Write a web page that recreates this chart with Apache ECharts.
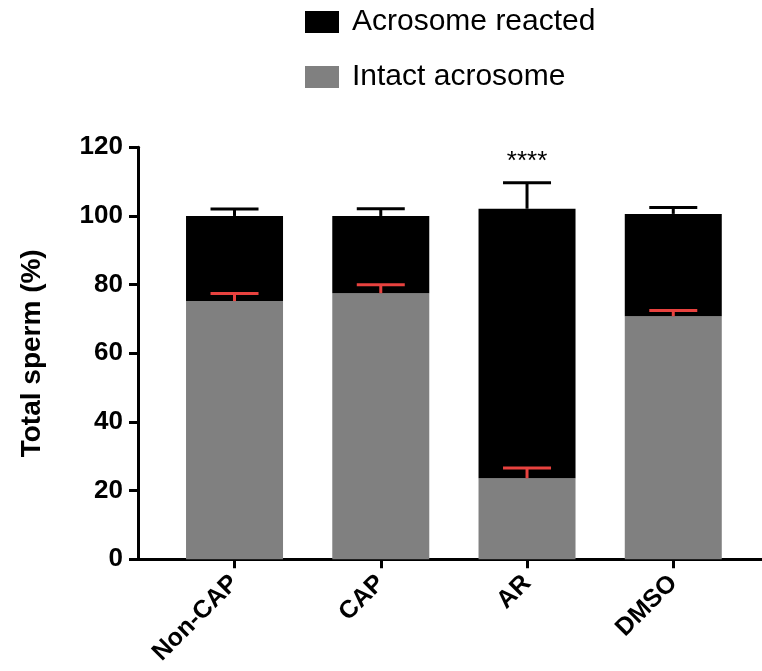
<!DOCTYPE html>
<html>
<head>
<meta charset="utf-8">
<script src="https://cdn.jsdelivr.net/npm/echarts@6/dist/echarts.min.js"></script>
<style>
html,body{margin:0;padding:0;background:#fff;}
#chart{width:762px;height:671px;}
</style>
</head>
<body>
<div id="chart"></div>
<script>
// ---- data ----
const categories = ['Non-CAP', 'CAP', 'AR', 'DMSO'];
const intactMean = [75.2, 77.5, 23.6, 70.8];
const intactSD = [2.2, 2.5, 3.0, 1.7];
const reactedMean = [24.8, 22.5, 78.5, 29.8];
const reactedSD = [2.0, 2.1, 7.6, 1.9];
const significance = ['', '', '****', ''];
const yTicks = { min: 0, max: 120, interval: 20 };

const FONT = '"Liberation Sans", Arial, sans-serif';
const GRAY = '#808080';
const BLACK = '#000000';
const RED = '#e8423f';

const totals = intactMean.map((v, i) => v + reactedMean[i]);

function errRender(color, halfCap, withSig) {
  return function (params, api) {
    const idx = api.value(0);
    const base = api.coord([idx, api.value(1)]);
    const top = api.coord([idx, api.value(2)]);
    const children = [
      { type: 'line', shape: { x1: base[0], y1: base[1], x2: top[0], y2: top[1] },
        style: { stroke: color, lineWidth: 3 } },
      { type: 'line', shape: { x1: top[0] - halfCap, y1: top[1], x2: top[0] + halfCap, y2: top[1] },
        style: { stroke: color, lineWidth: 3 } }
    ];
    if (withSig && significance[idx]) {
      children.push({ type: 'text', x: top[0], y: top[1] - 21,
        style: { text: significance[idx], fill: '#000', font: '26px ' + FONT,
                 align: 'center', verticalAlign: 'middle' } });
    }
    return { type: 'group', children: children };
  };
}

const chart = echarts.init(document.getElementById('chart'), null, { renderer: 'canvas' });
chart.setOption({
  animation: false,
  backgroundColor: '#fff',
  legend: {
    orient: 'vertical', left: 300, top: 2,
    icon: 'rect', itemWidth: 34, itemHeight: 22, itemGap: 25,
    data: ['Acrosome reacted', 'Intact acrosome'],
    textStyle: { fontFamily: FONT, fontSize: 30, color: '#000', padding: [0, 0, 0, 8] }
  },
  grid: [
    { left: 138, right: 0, top: 147.3, bottom: 111.7 },
    { left: 161.4, right: 15.6, top: 147.3, bottom: 111.7 }
  ],
  xAxis: [
    { gridIndex: 0, type: 'category', data: categories,
      axisLine: { show: true, lineStyle: { color: '#000', width: 3 } },
      axisTick: { show: false }, axisLabel: { show: false }, splitLine: { show: false } },
    { gridIndex: 1, type: 'category', data: categories,
      axisLine: { show: false },
      axisTick: { show: true, alignWithLabel: true, length: 9, lineStyle: { color: '#000', width: 3 } },
      axisLabel: { rotate: 45, margin: 20, fontFamily: FONT, fontSize: 25, fontWeight: 'bold', color: '#000' } }
  ],
  yAxis: [
    { gridIndex: 0, type: 'value', min: yTicks.min, max: yTicks.max, interval: yTicks.interval,
      name: 'Total sperm (%)', nameLocation: 'middle', nameGap: 92,
      nameTextStyle: { fontFamily: FONT, fontSize: 28, fontWeight: 'bold', color: '#000' },
      axisLine: { show: true, lineStyle: { color: '#000', width: 3 } },
      axisTick: { show: true, length: 9, lineStyle: { color: '#000', width: 3 } },
      axisLabel: { margin: 15, fontFamily: FONT, fontSize: 26, fontWeight: 'bold', color: '#000' },
      splitLine: { show: false } },
    { gridIndex: 1, type: 'value', min: yTicks.min, max: yTicks.max, interval: yTicks.interval, show: false }
  ],
  series: [
    { name: 'Intact acrosome', type: 'bar', stack: 'total', xAxisIndex: 1, yAxisIndex: 1,
      barWidth: 97, data: intactMean, itemStyle: { color: GRAY } },
    { name: 'Acrosome reacted', type: 'bar', stack: 'total', xAxisIndex: 1, yAxisIndex: 1,
      barWidth: 97, data: reactedMean, itemStyle: { color: BLACK } },
    { type: 'custom', xAxisIndex: 1, yAxisIndex: 1, z: 5,
      renderItem: errRender(RED, 24, false),
      data: intactMean.map((v, i) => [i, v, v + intactSD[i]]) },
    { type: 'custom', xAxisIndex: 1, yAxisIndex: 1, z: 5,
      renderItem: errRender(BLACK, 24, true),
      data: totals.map((v, i) => [i, v, v + reactedSD[i]]) }
  ]
});
</script>
</body>
</html>
